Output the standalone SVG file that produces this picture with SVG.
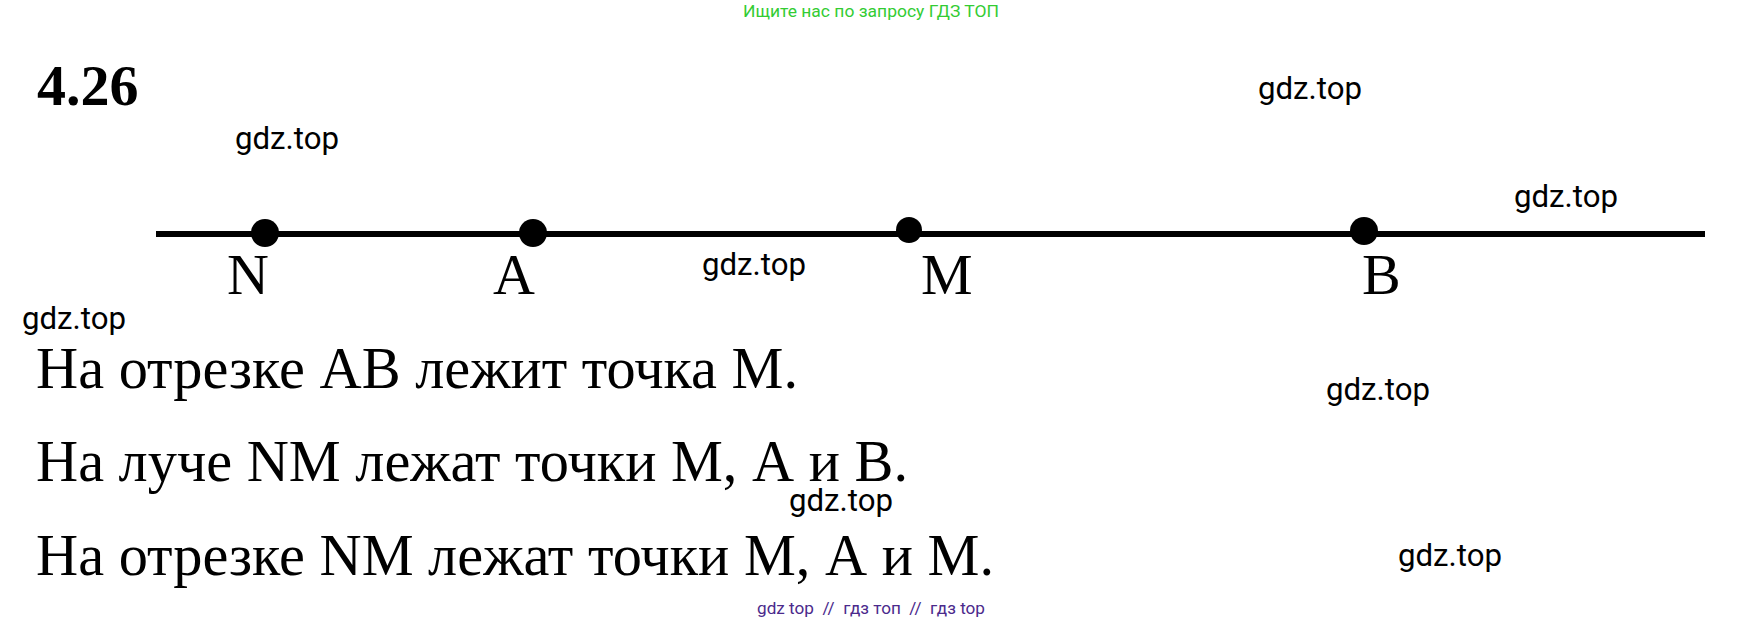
<svg xmlns="http://www.w3.org/2000/svg" width="1745" height="623" viewBox="0 0 1745 623">
<style>
.wm{font-family:Roboto,"Liberation Sans",sans-serif;font-size:32px;fill:#000}
.lbl{font-family:"Liberation Serif","Times New Roman",serif;font-size:58px;fill:#000}
.body{font-family:"Liberation Serif","Times New Roman",serif;font-size:59px;fill:#000}
.dot{fill:#000}
</style>
<rect width="1745" height="623" fill="#fff"/>
<text x="871" y="17" text-anchor="middle" textLength="256" lengthAdjust="spacingAndGlyphs" style="font-family:Roboto,'Liberation Sans',sans-serif;font-size:17px;fill:#33cc33">Ищите нас по запросу ГДЗ ТОП</text>
<text x="37" y="105" style="font-family:'Liberation Serif','Times New Roman',serif;font-size:58px;font-weight:bold;fill:#000">4.26</text>
<g id="connectors">
<line x1="156" y1="234" x2="1705" y2="234" stroke="#000" stroke-width="6"/>
</g>
<g id="node-N"><circle class="dot" cx="265" cy="233" r="14"/><text class="lbl" x="227" y="294">N</text></g>
<g id="node-A"><circle class="dot" cx="533" cy="233" r="14"/><text class="lbl" x="493" y="294">A</text></g>
<g id="node-M"><circle class="dot" cx="909" cy="230" r="13"/><text class="lbl" x="921" y="294">M</text></g>
<g id="node-B"><circle class="dot" cx="1364" cy="231" r="14"/><text class="lbl" x="1362" y="294">B</text></g>
<g id="statements">
<text class="body" x="36" y="388" textLength="762" lengthAdjust="spacingAndGlyphs">На отрезке АВ лежит точка М.</text>
<text class="body" x="36" y="481" textLength="872" lengthAdjust="spacingAndGlyphs">На луче NM лежат точки М, А и В.</text>
<text class="body" x="36" y="575" textLength="958" lengthAdjust="spacingAndGlyphs">На отрезке NM лежат точки М, А и М.</text>
</g>
<g id="watermarks">
<text class="wm" x="1258" y="99" textLength="104" lengthAdjust="spacingAndGlyphs">gdz.top</text>
<text class="wm" x="235" y="149" textLength="104" lengthAdjust="spacingAndGlyphs">gdz.top</text>
<text class="wm" x="1514" y="207" textLength="104" lengthAdjust="spacingAndGlyphs">gdz.top</text>
<text class="wm" x="702" y="275" textLength="104" lengthAdjust="spacingAndGlyphs">gdz.top</text>
<text class="wm" x="22" y="329" textLength="104" lengthAdjust="spacingAndGlyphs">gdz.top</text>
<text class="wm" x="1326" y="400" textLength="104" lengthAdjust="spacingAndGlyphs">gdz.top</text>
<text class="wm" x="789" y="511" textLength="104" lengthAdjust="spacingAndGlyphs">gdz.top</text>
<text class="wm" x="1398" y="566" textLength="104" lengthAdjust="spacingAndGlyphs">gdz.top</text>
</g>
<text x="757" y="614" xml:space="preserve" textLength="228" lengthAdjust="spacingAndGlyphs" style="font-family:Roboto,'Liberation Sans',sans-serif;font-size:17px;fill:#4b2a8c">gdz top  //  гдз топ  //  гдз top</text>
</svg>
